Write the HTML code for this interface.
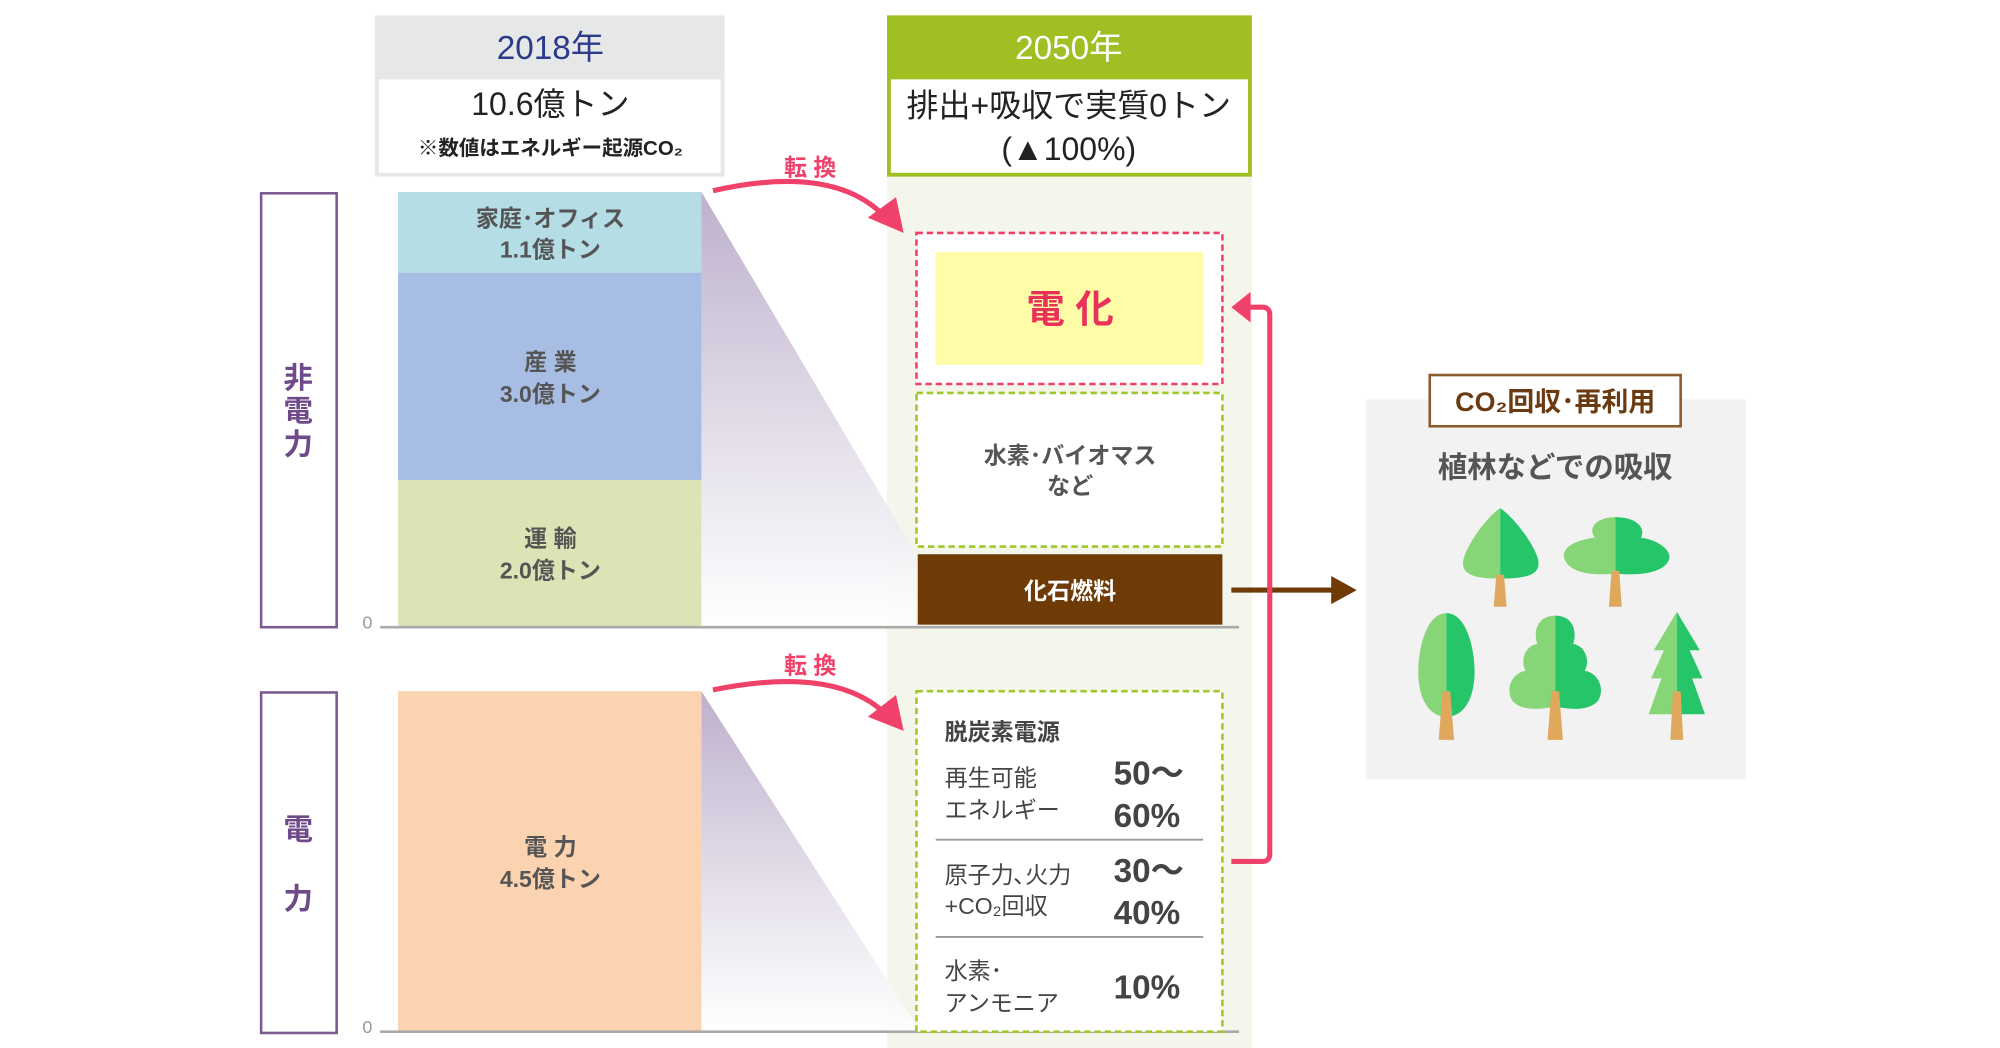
<!DOCTYPE html>
<html><head><meta charset="utf-8"><style>
html,body{margin:0;padding:0;background:#fff;width:2000px;height:1048px;overflow:hidden}
svg{display:block}
text{font-family:"Liberation Sans","Noto Sans CJK JP",sans-serif}
</style></head><body>
<svg width="2000" height="1048" viewBox="0 0 1562.5 818.75" xmlns="http://www.w3.org/2000/svg">
<defs>
<linearGradient id="g1" x1="0" y1="0" x2="0" y2="1">
<stop offset="0" stop-color="#bdb0cc"/><stop offset="1" stop-color="#ffffff" stop-opacity="0.9"/>
</linearGradient>
</defs>
<!-- 2050 column background -->
<rect x="693" y="138" width="285" height="682" fill="#f4f6ec"/>
<!-- headers -->
<rect x="293" y="12" width="273" height="126" fill="#e6e8e8"/>
<rect x="296" y="62" width="267" height="73" fill="#fff"/>
<text x="430" y="46" font-size="26" fill="#2b3a8a" text-anchor="middle">2018年</text>
<text x="430" y="90" font-size="25" fill="#222" text-anchor="middle">10.6億トン</text>
<text x="430" y="121" font-size="16" fill="#222" text-anchor="middle" font-weight="bold">※数値はエネルギー起源CO₂</text>
<rect x="693" y="12" width="285" height="126" fill="#a0bf22"/>
<rect x="696" y="62" width="279" height="73" fill="#fff"/>
<text x="835" y="46" font-size="26" fill="#fff" text-anchor="middle">2050年</text>
<text x="835" y="91" font-size="25" fill="#222" text-anchor="middle">排出+吸収で実質0トン</text>
<text x="835" y="125" font-size="25" fill="#222" text-anchor="middle">(▲100%)</text>
<!-- brackets -->
<rect x="204" y="151" width="59" height="339" fill="none" stroke="#7b5a8f" stroke-width="2"/>
<text font-size="23" fill="#6f4a8a" font-weight="bold" text-anchor="middle"><tspan x="233" y="303">非</tspan><tspan x="233" y="329">電</tspan><tspan x="233" y="355">力</tspan></text>
<rect x="204" y="541" width="59" height="266" fill="none" stroke="#7b5a8f" stroke-width="2"/>
<text font-size="23" fill="#6f4a8a" font-weight="bold" text-anchor="middle"><tspan x="233" y="656">電</tspan><tspan x="233" y="710">力</tspan></text>
<!-- gradients -->
<polygon points="548,150 715,432 715,490 548,490" fill="url(#g1)"/>
<polygon points="548,540 715,800 715,806 548,806" fill="url(#g1)"/>
<!-- bars -->
<rect x="311" y="150" width="237" height="63" fill="#b4dde6"/>
<rect x="311" y="213" width="237" height="162" fill="#a8bde3"/>
<rect x="311" y="375" width="237" height="115" fill="#dde3b4"/>
<rect x="311" y="540" width="237" height="266" fill="#fbd3b0"/>
<g font-size="18" fill="#555" font-weight="bold" text-anchor="middle">
<text x="430" y="177">家庭･オフィス</text><text x="430" y="201">1.1億トン</text>
<text x="430" y="289">産 業</text><text x="430" y="314">3.0億トン</text>
<text x="430" y="427">運 輸</text><text x="430" y="452">2.0億トン</text>
<text x="430" y="668">電 力</text><text x="430" y="693">4.5億トン</text>
</g>
<!-- axes -->
<line x1="297" y1="490" x2="968" y2="490" stroke="#aaa" stroke-width="2"/>
<line x1="297" y1="806" x2="968" y2="806" stroke="#aaa" stroke-width="2"/>
<text x="287" y="491" font-size="14" fill="#999" text-anchor="middle">0</text>
<text x="287" y="807" font-size="14" fill="#999" text-anchor="middle">0</text>
<!-- 転換 arrows -->
<text x="633" y="137" font-size="18" fill="#f0416b" font-weight="bold" text-anchor="middle">転 換</text>
<text x="633" y="526" font-size="18" fill="#f0416b" font-weight="bold" text-anchor="middle">転 換</text>
<path d="M557,149 Q650,128 690,168" fill="none" stroke="#f0416b" stroke-width="4"/>
<polygon points="678,170 706,182 700,154" fill="#f0416b"/>
<path d="M557,539 Q650,520 690,556" fill="none" stroke="#f0416b" stroke-width="4"/>
<polygon points="678,560 706,571 700,543" fill="#f0416b"/>
<!-- 電化 -->
<rect x="716" y="182" width="239" height="118" fill="#fff" stroke="#f0416b" stroke-width="2" stroke-dasharray="5,3"/>
<rect x="731" y="197" width="209" height="88" fill="#fffca8"/>
<text x="836" y="252" font-size="30" fill="#e8325a" font-weight="bold" text-anchor="middle">電 化</text>
<!-- 水素 -->
<rect x="716" y="307" width="239" height="120" fill="#fff" stroke="#a0c828" stroke-width="2" stroke-dasharray="5,3"/>
<text x="836" y="362" font-size="18" fill="#555" font-weight="bold" text-anchor="middle">水素･バイオマス</text>
<text x="836" y="386" font-size="18" fill="#555" font-weight="bold" text-anchor="middle">など</text>
<!-- 化石燃料 -->
<rect x="717" y="433" width="238" height="55" fill="#6e3a05"/>
<text x="836" y="468" font-size="18" fill="#fff" font-weight="bold" text-anchor="middle">化石燃料</text>
<line x1="962" y1="461" x2="1042" y2="461" stroke="#6e3a05" stroke-width="4"/>
<polygon points="1040,450 1060,461 1040,472" fill="#6e3a05"/>
<!-- pink connector -->
<path d="M962,673 L986,673 Q992,673 992,667 L992,246 Q992,240 986,240 L975,240" fill="none" stroke="#f0416b" stroke-width="4"/>
<polygon points="962,240 977,228 977,252" fill="#f0416b"/>
<!-- power box -->
<rect x="716" y="540" width="239" height="266" fill="#fff" stroke="#a0c828" stroke-width="2" stroke-dasharray="5,3"/>
<g fill="#444" font-size="18">
<text x="738" y="578" font-weight="bold">脱炭素電源</text>
<text x="738" y="614">再生可能</text><text x="738" y="639">エネルギー</text>
<text x="738" y="690">原子力､火力</text><text x="738" y="714">+CO₂回収</text>
<text x="738" y="765">水素･</text><text x="738" y="790">アンモニア</text>
</g>
<g fill="#444" font-size="26" font-weight="bold">
<text x="870" y="613">50～</text><text x="870" y="646">60%</text>
<text x="870" y="689">30～</text><text x="870" y="722">40%</text>
<text x="870" y="780">10%</text>
</g>
<line x1="731" y1="656" x2="940" y2="656" stroke="#999" stroke-width="1.5"/>
<line x1="731" y1="732" x2="940" y2="732" stroke="#999" stroke-width="1.5"/>
<!-- right panel -->
<rect x="1067" y="312" width="297" height="297" fill="#f2f2f2"/>
<rect x="1117" y="293" width="196" height="40" fill="#fff" stroke="#8a5a2a" stroke-width="2"/>
<text x="1215" y="321" font-size="21" fill="#6b3a10" font-weight="bold" text-anchor="middle">CO₂回収･再利用</text>
<text x="1215" y="373" font-size="23" fill="#555" font-weight="bold" text-anchor="middle">植林などでの吸収</text>
<!-- trees -->
<g>
<!-- tree1 -->
<path d="M1172,397 C1160,405 1143,430 1143,440 C1143,448 1150,452 1172,452 Z" fill="#86d577"/>
<path d="M1172,397 C1184,405 1202,430 1202,440 C1202,448 1195,452 1172,452 Z" fill="#27c56a"/>
<polygon points="1169,449 1175,449 1177,474 1167,474" fill="#e0a85c"/>
<!-- tree2 -->
<path d="M1262,404 C1248,404 1240,412 1246,420 C1230,422 1220,428 1222,436 C1226,448 1245,450 1262,448 Z" fill="#86d577"/>
<path d="M1262,404 C1278,404 1286,412 1282,420 C1296,422 1306,430 1304,437 C1300,448 1280,450 1262,448 Z" fill="#27c56a"/>
<polygon points="1259,446 1265,446 1267,474 1257,474" fill="#e0a85c"/>
<!-- tree3 -->
<path d="M1130,479 C1115,479 1108,505 1108,525 C1108,545 1116,560 1130,560 Z" fill="#86d577"/>
<path d="M1130,479 C1145,479 1152,505 1152,525 C1152,545 1144,560 1130,560 Z" fill="#27c56a"/>
<polygon points="1127,540 1133,540 1136,578 1124,578" fill="#e0a85c"/>
<!-- tree4 -->
<path d="M1215,481 C1200,481 1198,495 1201,503 C1190,505 1188,518 1192,524 C1180,526 1176,540 1182,548 C1190,556 1205,554 1215,552 Z" fill="#86d577"/>
<path d="M1215,481 C1230,481 1232,495 1229,503 C1240,505 1242,518 1238,524 C1250,526 1254,540 1248,548 C1240,556 1225,554 1215,552 Z" fill="#27c56a"/>
<polygon points="1212,540 1218,540 1221,578 1209,578" fill="#e0a85c"/>
<!-- tree5 -->
<path d="M1310,478 L1292,508 L1300,508 L1290,530 L1298,530 L1288,558 L1310,558 Z" fill="#86d577"/>
<path d="M1310,478 L1328,508 L1320,508 L1330,530 L1322,530 L1332,558 L1310,558 Z" fill="#27c56a"/>
<polygon points="1307,540 1313,540 1315,578 1305,578" fill="#e0a85c"/>
</g>
</svg>
</body></html>
